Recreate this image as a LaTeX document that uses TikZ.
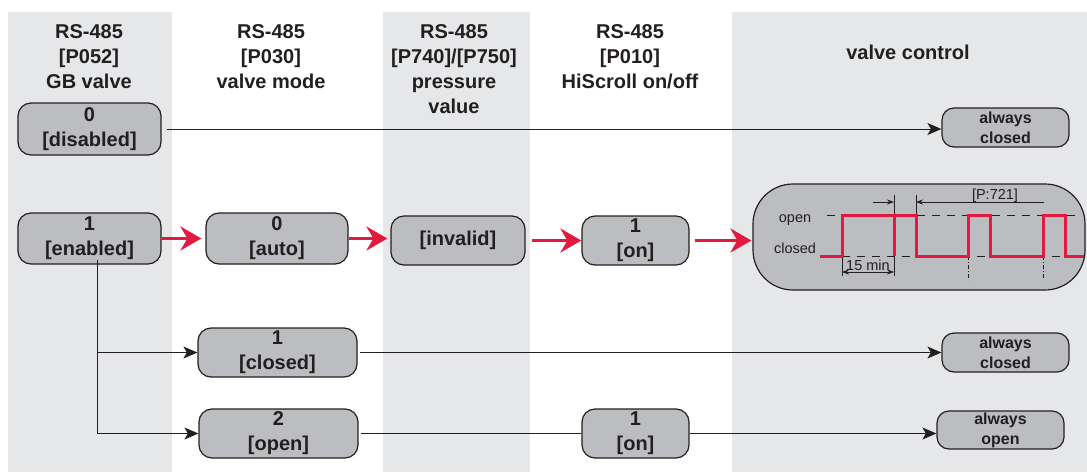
\documentclass[tikz,border=0pt]{standalone}
\usepackage{fontspec}
\setmainfont{Liberation Sans}
\usetikzlibrary{arrows.meta}
\definecolor{bandgray}{HTML}{E6E7E8}
\definecolor{boxgray}{HTML}{BCBDC0}
\definecolor{ink}{HTML}{231F20}
\definecolor{crimson}{HTML}{E21A40}
\begin{document}
\begin{tikzpicture}[x=1pt,y=-1pt,
  box/.style={draw=ink, fill=boxgray, line width=1.2pt, rounded corners=13pt, align=center, text=ink, font=\fontsize{20}{25}\selectfont\bfseries, inner sep=0pt},
  smallbox/.style={box, rounded corners=12pt, font=\fontsize{16}{20}\selectfont\bfseries},
  header/.style={align=center, text=ink, font=\fontsize{20}{25}\selectfont\bfseries, inner sep=0pt, anchor=north},
  blk/.style={draw=ink, line width=1pt},
  blkarrow/.style={blk, -{Stealth[length=14pt,width=12pt,inset=3.5pt]}},
  redarrow/.style={draw=crimson, line width=3pt, -{Stealth[length=21pt,width=24pt,inset=7pt]}},
  level/.style={draw=ink, line width=0.8pt, dash pattern=on 8pt off 7pt},
  tick/.style={draw=ink, line width=0.7pt},
  dimarrow/.style={draw=ink, line width=0.7pt, -{Stealth[length=7pt,width=5pt]}},
  dashdot/.style={draw=ink, line width=0.7pt, dash pattern=on 4pt off 2pt on 1pt off 2pt},
  wave/.style={draw=crimson, line width=3pt},
  small/.style={text=ink, font=\fontsize{14.5}{17}\selectfont, inner sep=0pt}
]
\useasboundingbox (0,0) rectangle (1087,472);
% column bands
\fill[bandgray] (8,12) rectangle (172,472);
\fill[bandgray] (383,12) rectangle (530,472);
\fill[bandgray] (732,12) rectangle (1087,472);

% headers
\node[header] (h1) at (89,24) {RS-485\\{}[P052]\\GB valve};
\node[header] (h2) at (271,24) {RS-485\\{}[P030]\\valve mode};
\node[header] (h3) at (454,24) {RS-485\\{}[P740]/[P750]\\pressure\\value};
\node[header] (h4) at (630,24) {RS-485\\{}[P010]\\HiScroll on/off};
\node[header, anchor=base] (h5) at (908,59) {valve control};

% nodes
\node[box, minimum width=143pt, minimum height=52pt] (dis) at (89.5,129) {0\\{}[disabled]};
\node[box, minimum width=143pt, minimum height=51pt] (en) at (89.5,238.5) {1\\{}[enabled]};
\node[box, minimum width=142pt, minimum height=51pt] (auto) at (277,238.5) {0\\{}[auto]};
\node[box, minimum width=134pt, minimum height=49pt] (inv) at (458,240.5) {[invalid]};
\node[box, minimum width=107pt, minimum height=49pt] (on1) at (635.5,240.5) {1\\{}[on]};
\node[box, minimum width=159pt, minimum height=49pt] (cl) at (277.5,352.5) {1\\{}[closed]};
\node[box, minimum width=159pt, minimum height=49pt] (op) at (278.5,433.5) {2\\{}[open]};
\node[box, minimum width=107pt, minimum height=49pt] (on2) at (635.5,433.5) {1\\{}[on]};
\node[smallbox, minimum width=127pt, minimum height=39pt] (ac1) at (1005.5,127.5) {always\\closed};
\node[smallbox, minimum width=127pt, minimum height=39pt] (ac2) at (1005.5,352.5) {always\\closed};
\node[smallbox, minimum width=127pt, minimum height=38pt] (ao) at (1000.5,430) {always\\open};
\node[box, rounded corners=40pt, minimum width=332pt, minimum height=106pt] (wv) at (919,237) {};

% black connectors
\coordinate (br) at ([xshift=7.5pt,yshift=5pt]en.south);
\draw[blkarrow, shorten <=5pt] (dis.east) -- (dis.east -| ac1.west);
\draw[blkarrow] (br) |- (cl.west);
\draw[blkarrow] (br) |- (op.west);
\draw[blkarrow, shorten <=2pt] (cl.east) -- (ac2.west);
\draw[blk, shorten <=2pt] (op.east) -- (on2.west);
\draw[blkarrow] (on2.east) -- (on2.east -| ao.west);

% red connectors
\draw[redarrow, shorten >=4pt] (en.east) -- (auto.west);
\draw[redarrow, shorten >=3pt] (auto.east) -- (auto.east -| inv.west);
\draw[redarrow, shorten <=6pt] (inv.east) -- (on1.west);
\draw[redarrow, shorten <=5pt, shorten >=1pt] (on1.east) -- (on1.east -| wv.west);

% waveform
\node[small, anchor=base] (lopen) at (795,222) {open};
\node[small, anchor=base] (lclosed) at (795,253) {closed};
\draw[level] (827,215) -- (1080,215);
\draw[level] (842,256) -- (1080,256);
\draw[tick] (894,195) -- (894,215);
\draw[tick] (916,195) -- (916,215);
\draw[dimarrow] (873,202) -- (894,202);
\draw[dimarrow] (1044,202) -- (916,202);
\node[small, anchor=base] (p721) at (995,199) {[P:721]};
\draw[tick] (842,256) -- (842,276);
\draw[tick] (894,256) -- (894,276);
\draw[dimarrow, {Stealth[length=7pt,width=5pt]}-{Stealth[length=7pt,width=5pt]}] (842,272) -- (894,272);
\node[small, anchor=base] (fmin) at (868,270) {15 min};
\draw[dashdot] (968,256) -- (968,280);
\draw[dashdot] (1043,256) -- (1043,280);
\draw[wave] (820,256) -- (842,256) -- (842,215) -- (916,215) -- (916,256) -- (968,256) -- (968,215) -- (990,215) -- (990,256) -- (1043,256) -- (1043,215) -- (1065,215) -- (1065,256) -- (1084,256);
\draw[wave] (894,215) -- (894,256);
\end{tikzpicture}
\end{document}
